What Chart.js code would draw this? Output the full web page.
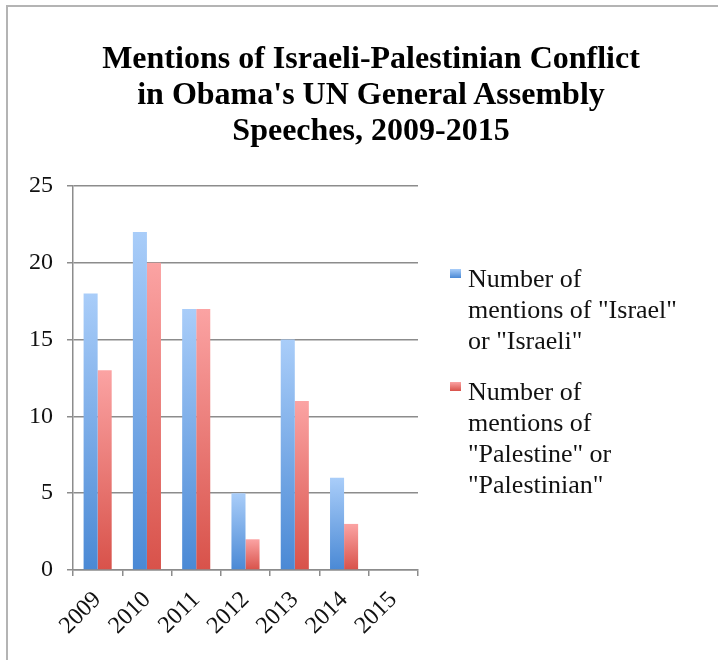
<!DOCTYPE html>
<html>
<head>
<meta charset="utf-8">
<script src="https://cdn.jsdelivr.net/npm/chart.js@4/dist/chart.umd.min.js"></script>
<style>
  html, body { margin: 0; padding: 0; background: #fff; }
  #wrap { position: relative; width: 718px; height: 660px; overflow: hidden; font-family: "Liberation Serif", "Times New Roman", serif; }
  #frame { position: absolute; left: 6px; top: 5px; width: 800px; height: 800px; border-top: 2px solid #b4b4b4; border-left: 2px solid #b4b4b4; }
  #cv { position: absolute; left: 0; top: 0; }
  #title { position: absolute; left: 12px; top: 39px; width: 718px; text-align: center; font-weight: bold; font-size: 32px; line-height: 36px; color: #000; }
  #legend { position: absolute; left: 450px; top: 263px; font-size: 26px; line-height: 31px; color: #111; }
  .item { position: relative; padding-left: 18px; margin-bottom: 20px; }
  .sw { position: absolute; left: 0; top: 6px; width: 11px; height: 9px; }
</style>
</head>
<body>
<div id="wrap">
  <div id="frame"></div>
  <canvas id="cv" width="718" height="660"></canvas>
  <div id="title"></div>
  <div id="legend"></div>
</div>
<script>
const titleLines = ["Mentions of Israeli-Palestinian Conflict", "in Obama's UN General Assembly", "Speeches, 2009-2015"];
const years = ["2009", "2010", "2011", "2012", "2013", "2014", "2015"];
const israelMentions = [18, 22, 17, 5, 15, 6, 0];
const palestineMentions = [13, 20, 17, 2, 11, 3, 0];
const legendLines = [
  ["Number of", "mentions of \"Israel\"", "or \"Israeli\""],
  ["Number of", "mentions of", "\"Palestine\" or", "\"Palestinian\""]
];
const yTicks = [0, 5, 10, 15, 20, 25];

const palettes = [
  { top: "#a9cdf9", bottom: "#4a89d5", solid: "#6fa3e6" },
  { top: "#fba3a3", bottom: "#d8524a", solid: "#e77a74" }
];

document.getElementById("title").innerHTML = titleLines.join("<br>");

function gradientFor(pal) {
  return function (ctx) {
    const chart = ctx.chart;
    if (!chart.chartArea || ctx.type !== "data") return pal.solid;
    const y = chart.scales.y;
    const v = ctx.parsed ? ctx.parsed.y : ctx.raw;
    const top = y.getPixelForValue(v), bot = y.getPixelForValue(0);
    if (!isFinite(top) || Math.abs(bot - top) < 1) return pal.solid;
    const g = chart.ctx.createLinearGradient(0, top, 0, bot);
    g.addColorStop(0, pal.top);
    g.addColorStop(1, pal.bottom);
    return g;
  };
}

const gridColor = "#8c8c8c";
const chart = new Chart(document.getElementById("cv"), {
  type: "bar",
  data: {
    labels: years,
    datasets: [
      { label: legendLines[0].join(" "), data: israelMentions, backgroundColor: gradientFor(palettes[0]), borderWidth: 0, categoryPercentage: 0.57, barPercentage: 1.0 },
      { label: legendLines[1].join(" "), data: palestineMentions, backgroundColor: gradientFor(palettes[1]), borderWidth: 0, categoryPercentage: 0.57, barPercentage: 1.0 }
    ]
  },
  options: {
    responsive: false,
    animation: false,
    layout: { padding: { top: 186, right: 300, left: 0, bottom: 0 } },
    plugins: { legend: { display: false }, title: { display: false }, tooltip: { enabled: false } },
    scales: {
      x: {
        afterFit: (s) => { s.height = 90; },
        grid: { display: true, drawOnChartArea: false, offset: true, tickLength: 6, color: gridColor, lineWidth: 1.5 },
        border: { color: gridColor, width: 1.5 },
        ticks: { autoSkip: false, minRotation: 45, maxRotation: 45, padding: 10, color: "#111", font: { family: "'Liberation Serif', serif", size: 24 } }
      },
      y: {
        min: 0, max: 25,
        afterFit: (s) => { s.width = 73; },
        afterBuildTicks: (s) => { s.ticks = yTicks.map(v => ({ value: v })); },
        grid: { color: gridColor, lineWidth: 1.5, tickLength: 6 },
        border: { color: gridColor, width: 1.5 },
        ticks: { padding: 14, color: "#111", font: { family: "'Liberation Serif', serif", size: 24 } }
      }
    }
  }
});

const legendEl = document.getElementById("legend");
chart.data.datasets.forEach((ds, i) => {
  const item = document.createElement("div");
  item.className = "item";
  const sw = document.createElement("div");
  sw.className = "sw";
  sw.style.background = "linear-gradient(" + palettes[i].top + "," + palettes[i].bottom + ")";
  item.appendChild(sw);
  const txt = document.createElement("div");
  txt.innerHTML = legendLines[i].map(l => l.replace(/</g, "&lt;")).join("<br>");
  item.appendChild(txt);
  legendEl.appendChild(item);
});
</script>
</body>
</html>
